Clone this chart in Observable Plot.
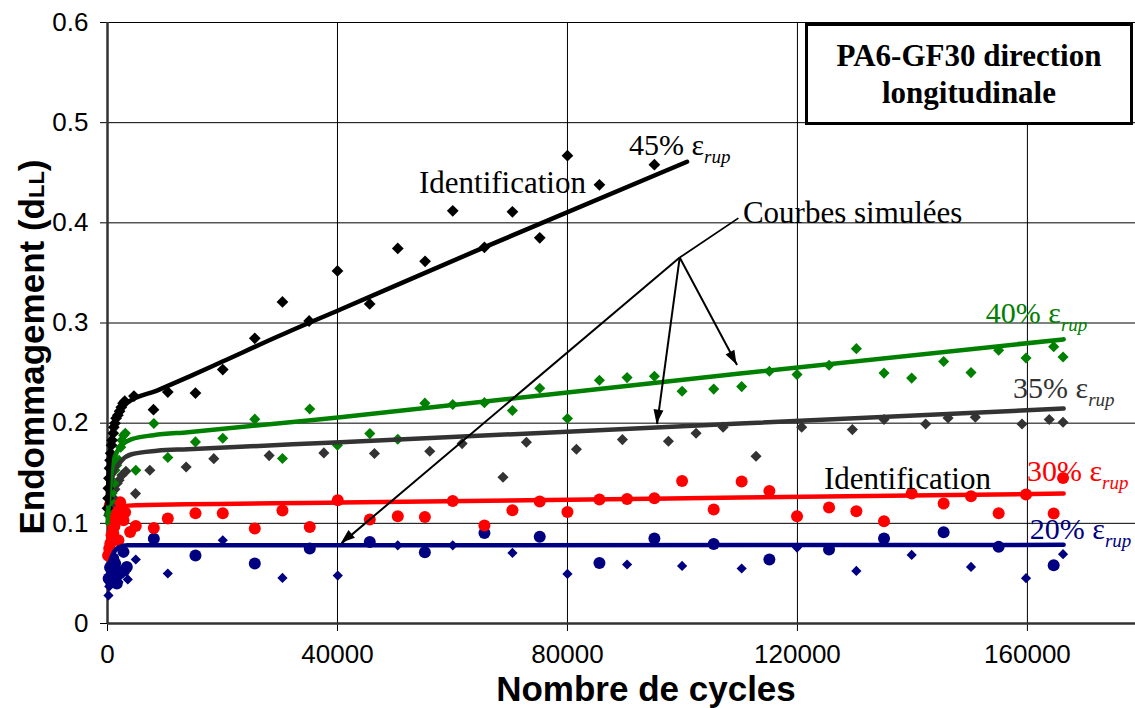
<!DOCTYPE html>
<html>
<head>
<meta charset="utf-8">
<script src="https://cdn.jsdelivr.net/npm/d3@7"></script>
<script src="https://cdn.jsdelivr.net/npm/@observablehq/plot@0.6"></script>
<style>
  html, body { margin: 0; padding: 0; background: white; }
  #wrap { position: relative; width: 1135px; height: 708px; overflow: hidden; }
  #titlebox {
    position: absolute; left: 805px; top: 23px; width: 322px; height: 96px;
    border: 3px solid black; background: white;
    font-family: "Liberation Serif", "Times New Roman", serif; font-weight: bold;
    font-size: 31px; line-height: 37px; text-align: center;
    display: flex; flex-direction: column; justify-content: center;
  }
</style>
</head>
<body>
<div id="wrap"></div>
<script>
// ---------- data ----------
const xTicks = [0, 40000, 80000, 120000, 160000];
const yTicks = [0, 0.1, 0.2, 0.3, 0.4, 0.5, 0.6];

// measured points [cycles, damage]
const pts45 = [[0,0.115],[100,0.125],[150,0.135],[250,0.145],[350,0.155],[450,0.163],[550,0.17],[700,0.178],[800,0.183],[1000,0.19],[1100,0.196],[1300,0.2],[1500,0.205],[1800,0.208],[2100,0.212],[2400,0.216],[2700,0.22],[3000,0.222],
  [4600,0.227],[8000,0.2135],[10490,0.231],[15300,0.230],[20050,0.2535],[25620,0.2847],[30430,0.321],[35070,0.302],[40000,0.352],[45600,0.319],[50490,0.3745],[55240,0.3616],[60050,0.412],[65560,0.3755],[70430,0.411],[75180,0.385],[80000,0.467],[85560,0.438],[95120,0.458]];

const pts40 = [[300,0.11],[500,0.122],[800,0.13],[1100,0.14],[1300,0.153],[1600,0.158],[2000,0.163],[2300,0.176],[2500,0.183],[2800,0.188],[3100,0.19],[4920,0.153],[8060,0.1996],[10490,0.1657],[15300,0.1813],[20050,0.185],[25620,0.204],[30430,0.1647],[35180,0.2142],[40000,0.178],[45620,0.1896],[50490,0.184],[55200,0.220],[60050,0.2186],[65560,0.2205],[70430,0.2126],[75180,0.2348],[80000,0.2046],[85560,0.2428],[90370,0.2455],[95120,0.2468],[99940,0.2318],[105440,0.234],[110300,0.2365],[115120,0.2518],[119930,0.2485],[125500,0.2578],[130250,0.2744],[135060,0.250],[139870,0.245],[145430,0.2615],[150190,0.2505],[155000,0.2728],[159760,0.265],[164570,0.2764],[166200,0.266]];

const pts35 = [[200,0.108],[500,0.118],[900,0.126],[1300,0.134],[1700,0.14],[2000,0.143],[2500,0.148],[3200,0.152],[4870,0.1297],[7360,0.153],[13680,0.1563],[18490,0.1646],[28120,0.1676],[37630,0.1703],[46430,0.1697],[56050,0.172],[61680,0.1796],[68790,0.146],[72860,0.181],[81560,0.174],[89560,0.1836],[97560,0.182],[102370,0.19],[107070,0.196],[112800,0.167],[120740,0.196],[129560,0.1936],[135060,0.2036],[142300,0.1992],[146200,0.2052],[150940,0.206],[159060,0.1992],[163800,0.2036],[166200,0.2009]];

const pts30 = [[100,0.068],[300,0.075],[400,0.118],[500,0.08],[700,0.088],[800,0.1],[1000,0.09],[1200,0.097],[1330,0.106],[1600,0.11],[1900,0.083],[2000,0.118],[2200,0.121],[2500,0.115],[2780,0.103],[3060,0.111],[3940,0.0914],[4920,0.0974],[8060,0.0954],[10490,0.1048],[15300,0.110],[20050,0.110],[25620,0.0948],[30430,0.1128],[35180,0.0964],[40050,0.123],[45620,0.1038],[50490,0.107],[55200,0.1064],[60050,0.1224],[65560,0.0978],[70430,0.113],[75180,0.1217],[80000,0.1114],[85560,0.1237],[90370,0.1243],[95120,0.125],[99940,0.1423],[105440,0.1137],[110300,0.1417],[115120,0.1323],[119930,0.107],[125500,0.1157],[130250,0.112],[135060,0.102],[139870,0.1297],[145430,0.1197],[150190,0.127],[155000,0.110],[159760,0.1287],[164570,0.1098],[166200,0.1453]];

const pts20c = [[200,0.045],[450,0.056],[750,0.05],[1000,0.065],[1330,0.06],[1620,0.04],[2100,0.05],[2780,0.0715],[2900,0.053],[3360,0.0565],[8060,0.0845],[15300,0.0678],[25620,0.0599],[35180,0.0749],[45620,0.0814],[55200,0.0711],[65560,0.0904],[75180,0.0865],[85560,0.0605],[95120,0.0848],[105440,0.0794],[115120,0.0638],[125500,0.0738],[135060,0.0848],[145430,0.0911],[155000,0.0765],[164570,0.0582]];

const pts20d = [[170,0.028],[300,0.037],[600,0.046],[1000,0.044],[1910,0.0415],[3530,0.044],[4920,0.0639],[10490,0.0499],[20050,0.0831],[30430,0.0455],[40050,0.0479],[50490,0.0781],[60050,0.0781],[70430,0.0705],[80000,0.0495],[90370,0.0589],[99940,0.0575],[110300,0.0549],[119930,0.0758],[130250,0.0525],[139870,0.0685],[150190,0.0565],[159760,0.0452],[166200,0.0692]];

// simulated curves
const sim45 = [[0,0.12],[200,0.15],[600,0.18],[1200,0.2],[2000,0.21],[3400,0.22],[8600,0.2325],[14400,0.247],[20000,0.2615],[30000,0.2875],[40500,0.3135],[65500,0.3755],[100800,0.461]];
const sim40 = [[0,0.10],[500,0.14],[1200,0.165],[2500,0.178],[4200,0.184],[8000,0.188],[14000,0.191],[40500,0.206],[110000,0.2495],[166300,0.2837]];
const sim35 = [[0,0.11],[600,0.14],[1500,0.155],[2500,0.163],[4200,0.169],[8600,0.1725],[14000,0.174],[40500,0.181],[110000,0.1996],[166300,0.2146]];
const sim30 = [[0,0.07],[500,0.1],[1200,0.112],[2500,0.117],[5000,0.118],[40500,0.1207],[110000,0.1257],[166300,0.1297]];
const sim20 = [[0,0.04],[400,0.06],[1000,0.07],[2000,0.076],[3500,0.078],[166300,0.0785]];

// annotation anchors (data units)
const arrowHub = [99520, 0.3653];
const leaderEnd = [109730, 0.4047];
const arrowTips = [[40700, 0.080], [95590, 0.199], [109500, 0.258]];
const labels = [
  {x: 90780, y: 0.4674, main: "45% ε", sub: "rup", color: "#000000"},
  {x: 152860, y: 0.2994, main: "40% ε", sub: "rup", color: "#008000"},
  {x: 157600, y: 0.2245, main: "35% ε", sub: "rup", color: "#333333"},
  {x: 160000, y: 0.1413, main: "30% ε", sub: "rup", color: "#ff0000"},
  {x: 160500, y: 0.0838, main: "20% ε", sub: "rup", color: "#000080"},
  {x: 54260, y: 0.4294, main: "Identification", sub: "", color: "#000000"},
  {x: 124690, y: 0.1337, main: "Identification", sub: "", color: "#000000"},
  {x: 110600, y: 0.3995, main: "Courbes simulées", sub: "", color: "#000000"}
];

// ---------- chart ----------
const X = d => d[0], Y = d => d[1];
const lineOpts = (c) => ({x: X, y: Y, stroke: c, strokeWidth: 4.5, curve: "monotone-x"});

const chart = Plot.plot({
  width: 1135, height: 708,
  marginLeft: 107, marginRight: 0, marginTop: 22, marginBottom: 85,
  x: {domain: [0, 178800]},
  y: {domain: [0, 0.6]},
  style: {fontFamily: "'Liberation Sans', Arial, sans-serif", fontSize: "26px", background: "white", color: "black", overflow: "visible"},
  marks: [
    Plot.gridY(yTicks.slice(1), {stroke: "black", strokeOpacity: 1, strokeWidth: 1}),
    Plot.gridX(xTicks.slice(1), {stroke: "black", strokeOpacity: 1, strokeWidth: 1}),
    Plot.axisY(yTicks, {tickSize: 7, tickPadding: 12, label: null, tickFormat: d => d === 0 ? "0" : d.toFixed(1)}),
    Plot.axisX(xTicks, {tickSize: 8, tickPadding: 13, label: null, tickFormat: d => String(d)}),
    Plot.ruleX([0], {stroke: "#333", strokeWidth: 2.5}),
    Plot.ruleY([0], {stroke: "#333", strokeWidth: 2.5}),
    // points
    Plot.dot(pts20d, {x: X, y: Y, symbol: "diamond2", r: 4.6, fill: "#000080"}),
    Plot.dot(pts20c, {x: X, y: Y, symbol: "circle", r: 6, fill: "#000080"}),
    Plot.dot(pts30, {x: X, y: Y, symbol: "circle", r: 6, fill: "#ff0000"}),
    Plot.dot(pts35, {x: X, y: Y, symbol: "diamond2", r: 5, fill: "#333333"}),
    Plot.dot(pts40, {x: X, y: Y, symbol: "diamond2", r: 5, fill: "#008000"}),
    Plot.dot(pts45, {x: X, y: Y, symbol: "diamond2", r: 5.3, fill: "#000000"}),
    // simulated curves
    Plot.line(sim20, lineOpts("#000080")),
    Plot.line(sim30, lineOpts("#ff0000")),
    Plot.line(sim35, lineOpts("#333333")),
    Plot.line(sim40, lineOpts("#008000")),
    Plot.line(sim45, lineOpts("#000000")),
    // annotation leader + arrows
    Plot.link([leaderEnd], {x1: arrowHub[0], y1: arrowHub[1], x2: X, y2: Y, stroke: "black", strokeWidth: 1.8}),
    Plot.link(arrowTips, {x1: arrowHub[0], y1: arrowHub[1], x2: X, y2: Y, stroke: "black", strokeWidth: 2})
  ]
});

document.getElementById("wrap").appendChild(chart);

const sx = chart.scale("x"), sy = chart.scale("y");
const svg = d3.select(chart);

// filled arrowheads
const hx = sx.apply(arrowHub[0]), hy = sy.apply(arrowHub[1]);
svg.append("g").selectAll("path").data(arrowTips).join("path")
  .attr("fill", "black")
  .attr("d", d => {
    const tx = sx.apply(d[0]), ty = sy.apply(d[1]);
    const a = Math.atan2(ty - hy, tx - hx);
    const L = 14, Wd = 5;
    const bx = tx - L * Math.cos(a), by = ty - L * Math.sin(a);
    const px = -Math.sin(a) * Wd, py = Math.cos(a) * Wd;
    return `M${tx},${ty}L${bx + px},${by + py}L${bx - px},${by - py}Z`;
  });

// series labels
const lg = svg.append("g").attr("font-family", "'Liberation Serif', 'Times New Roman', serif")
  .attr("text-anchor", "start");
labels.forEach(l => {
  const t = lg.append("text").attr("x", sx.apply(l.x)).attr("y", sy.apply(l.y))
    .attr("fill", l.color).attr("font-size", l.sub ? 30 : 31);
  t.append("tspan").text(l.main);
  if (l.sub) t.append("tspan").attr("font-style", "italic").attr("font-size", 19).attr("dy", 8).text(l.sub);
});

// axis titles
svg.append("text").attr("x", 646).attr("y", 701).attr("text-anchor", "middle")
  .attr("font-family", "'Liberation Sans', Arial, sans-serif").attr("font-weight", "bold").attr("font-size", 35)
  .text("Nombre de cycles");
const yl = svg.append("text").attr("transform", "translate(44,347) rotate(-90)").attr("text-anchor", "middle")
  .attr("font-family", "'Liberation Sans', Arial, sans-serif").attr("font-weight", "bold").attr("font-size", 35);
yl.append("tspan").text("Endommagement (d");
yl.append("tspan").attr("font-size", 22).text("LL");
yl.append("tspan").text(")");

// title box
const box = document.createElement("div");
box.id = "titlebox";
box.innerHTML = "<div>PA6-GF30 direction</div><div>longitudinale</div>";
document.getElementById("wrap").appendChild(box);
</script>
</body>
</html>
